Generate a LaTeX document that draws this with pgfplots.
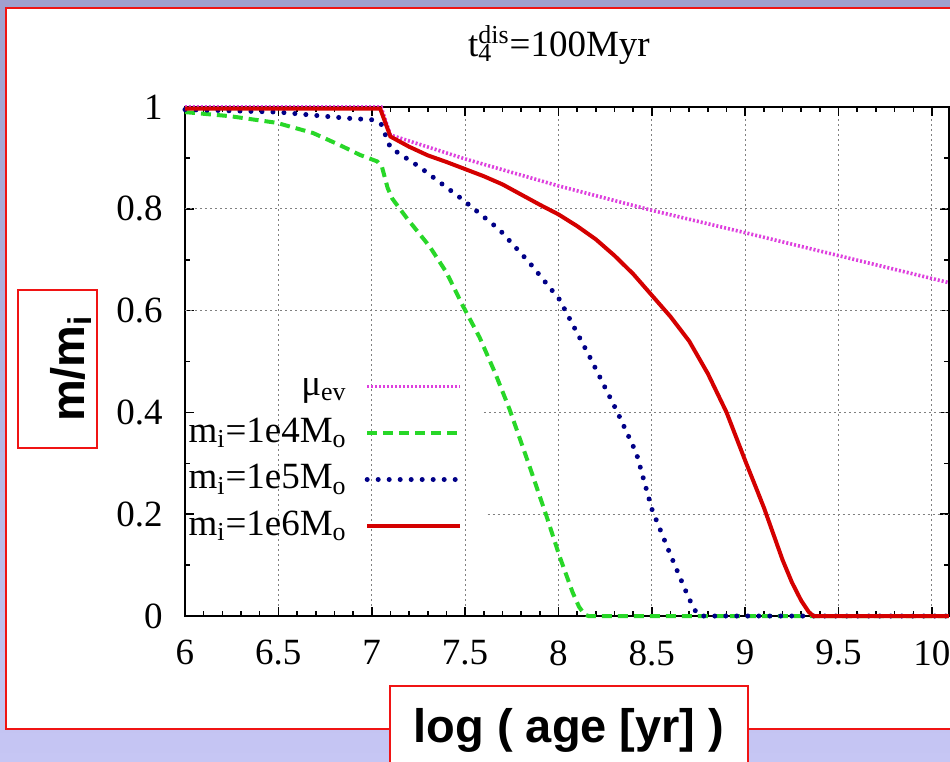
\documentclass[border=0pt]{standalone}
\usepackage{pgfplots}
\pgfplotsset{compat=1.18}
\usepackage{fontspec}
\setmainfont{Liberation Serif}
\newfontfamily\labelfont{Liberation Sans}
\definecolor{bgtop}{RGB}{160,160,206}
\definecolor{bgbot}{RGB}{198,198,244}
\definecolor{cmag}{RGB}{222,64,222}
\definecolor{cgreen}{RGB}{40,215,40}
\definecolor{cblue}{RGB}{0,0,135}
\definecolor{cred}{RGB}{212,0,0}
\definecolor{pred}{RGB}{240,20,20}
\begin{document}
\begin{tikzpicture}
\begin{scope}[x=0.5pt,y=-0.5pt]
\shade[top color=bgtop,bottom color=bgbot] (0,0) rectangle (950,762);
\fill[white] (6,8) rectangle (1000,729);
\draw[pred,line width=1pt] (1000,8) -- (6,8) -- (6,729) -- (1000,729);
\node[font={\fontsize{18.5}{22}\selectfont}] at (559,45) {t\makebox[0pt][l]{\textsubscript{4}}\textsuperscript{dis}=100Myr};
\end{scope}
\begin{axis}[
  at={(92.5pt,-308pt)}, anchor=south west,
  scale only axis, width=381.9pt, height=254.5pt,
  xmin=6, xmax=10.09, ymin=0, ymax=1,
  xtick={6,6.5,7,7.5,8,8.5,9,9.5,10},
  ytick={0,0.2,0.4,0.6,0.8,1},
  minor x tick num=4, minor y tick num=1,
  tick align=inside,
  major tick length=4.5pt, minor tick length=2.3pt,
  every tick/.style={black,line width=0.8pt},
  axis line style={line width=1pt},
  clip=false,
  /pgf/number format/assume math mode=true,
  tick label style={font={\fontsize{18.5}{22}\selectfont}},
  yticklabel style={inner sep=0pt, xshift=-11pt},
  xticklabel style={inner sep=0pt, yshift=-12pt},
  xmajorgrids,
  major grid style={gray, line width=0.5pt, dash pattern=on 1pt off 1.5pt},
  legend plot pos=right,
  legend cell align=right,
  legend image code/.code={\draw[#1] (0pt,0pt) -- (46.5pt,0pt);},
  legend style={at={(axis cs:7.487,0.497)}, anchor=north east,
    draw=none, fill=none, inner sep=0pt, outer sep=0pt,
    /tikz/column sep=9pt, /tikz/row sep=0pt,
    nodes={inner sep=0pt, text height=16.3pt, text depth=7pt},
    font={\fontsize{18.5}{22}\selectfont}},
]
\draw[gray, line width=0.5pt, dash pattern=on 1pt off 1.5pt] (axis cs:6,0.8) -- (axis cs:10.09,0.8);
\draw[gray, line width=0.5pt, dash pattern=on 1pt off 1.5pt] (axis cs:6,0.6) -- (axis cs:10.09,0.6);
\draw[gray, line width=0.5pt, dash pattern=on 1pt off 1.5pt] (axis cs:7.6,0.4) -- (axis cs:10.09,0.4);
\draw[gray, line width=0.5pt, dash pattern=on 1pt off 1.5pt] (axis cs:7.62,0.2) -- (axis cs:10.09,0.2);

\addplot[cmag, line width=1.8pt, dash pattern=on 1pt off 1pt] coordinates {
(6,1) (7.05,1) (7.1,0.945) (7.5,0.898) (8,0.845) (8.5,0.797) (9,0.753) (9.5,0.708) (10,0.663) (10.09,0.655)};
\addlegendentry{μ\textsubscript{ev}}

\addplot[cgreen, line width=2pt, dash pattern=on 5pt off 3pt] coordinates {
(6,0.99) (6.24,0.982) (6.49,0.969) (6.685,0.949) (6.83,0.925) (6.936,0.906) (7.03,0.893) (7.055,0.882)
(7.085,0.841) (7.11,0.82) (7.187,0.782) (7.31,0.726) (7.40,0.675) (7.487,0.61) (7.578,0.547)
(7.66,0.478) (7.738,0.406) (7.845,0.294) (7.936,0.196) (8.005,0.118) (8.075,0.047) (8.11,0.018) (8.14,0.003) (8.16,0) (10.09,0)};
\addlegendentry{m\textsubscript{i}=1e4M\textsubscript{o}}

\addplot[cblue, line width=2.5pt, line cap=round, dash pattern=on 0pt off 5.5pt] coordinates {
(6,0.995) (6.5,0.99) (6.866,0.978) (7.0,0.975) (7.05,0.967) (7.1,0.92) (7.257,0.882) (7.487,0.818)
(7.684,0.759) (7.845,0.694) (8.005,0.622) (8.166,0.51) (8.316,0.40) (8.417,0.32) (8.50,0.21)
(8.594,0.125) (8.684,0.047) (8.72,0.018) (8.745,0.003) (8.76,0) (10.09,0)};
\addlegendentry{m\textsubscript{i}=1e5M\textsubscript{o}}

\addplot[cred, line width=2pt] coordinates {
(6,0.997) (7.045,0.997) (7.1,0.942) (7.2,0.922) (7.3,0.905) (7.4,0.892) (7.5,0.878) (7.6,0.864)
(7.7,0.848) (7.8,0.828) (7.9,0.808) (8.0,0.789) (8.1,0.766) (8.2,0.740) (8.3,0.708) (8.4,0.672)
(8.5,0.630) (8.6,0.588) (8.7,0.540) (8.8,0.476) (8.9,0.400) (9.0,0.305) (9.1,0.213) (9.2,0.110)
(9.25,0.066) (9.3,0.030) (9.34,0.008) (9.365,0) (10.09,0)};
\addlegendentry{m\textsubscript{i}=1e6M\textsubscript{o}}
\end{axis}
\begin{scope}[x=0.5pt,y=-0.5pt]
\draw[pred,line width=1pt,fill=white] (18,290) rectangle (97,448);
\node[rotate=90,anchor=base,font={\labelfont\bfseries\fontsize{23.5}{28}\selectfont}] at (84,368.5) {m/m\textsubscript{i}};
\draw[pred,line width=1pt,fill=white] (390,686) rectangle (748,800);
\node[anchor=base,font={\labelfont\bfseries\fontsize{23.5}{28}\selectfont}] at (569,742) {log ( age [yr] )};
\end{scope}
\pgfresetboundingbox
\path[use as bounding box] (0,0) rectangle (475pt,-381pt);
\end{tikzpicture}
\end{document}
